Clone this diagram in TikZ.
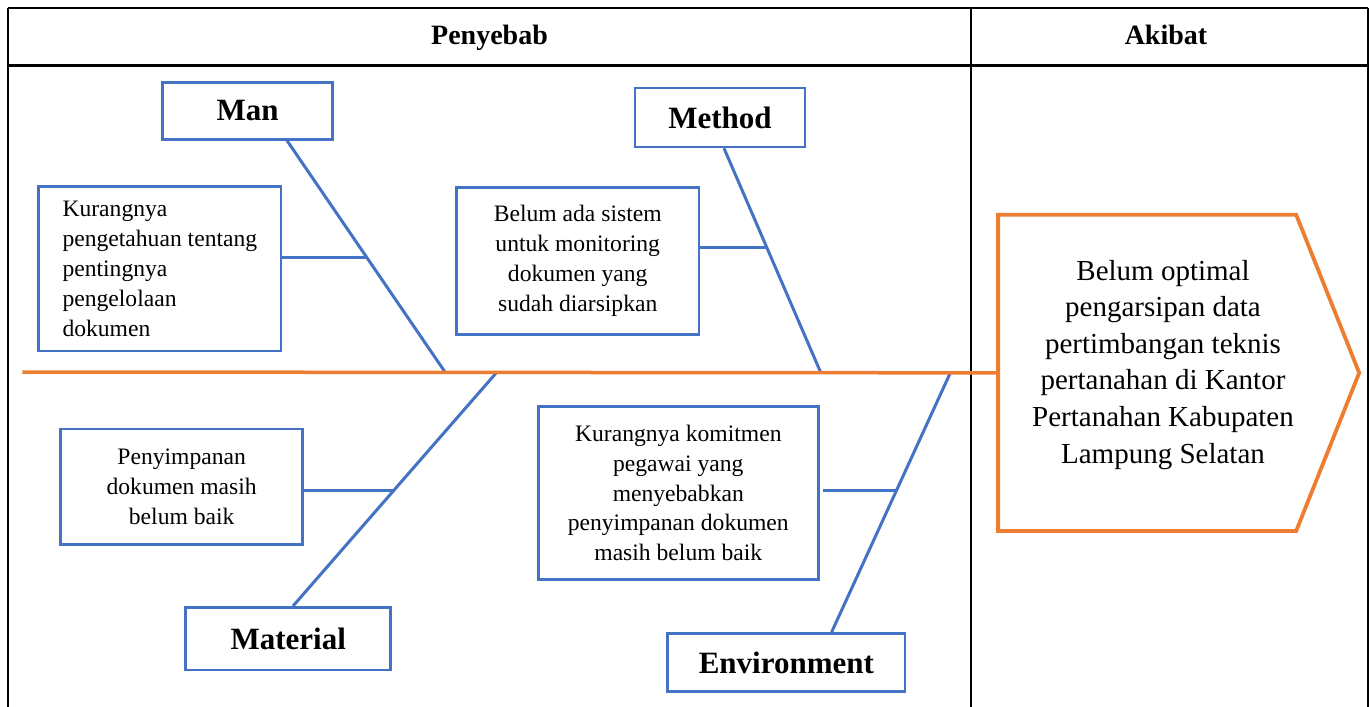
\documentclass[tikz,border=0pt]{standalone}
\usepackage{fontspec}
\setmainfont{Liberation Serif}
\definecolor{fbblue}{HTML}{4472C4}
\definecolor{fborange}{HTML}{ED7D31}
\begin{document}
\begin{tikzpicture}[x=1pt,y=-1pt,
  tableline/.style={draw=black,line width=2pt},
  headtext/.style={font=\fontsize{28}{33}\selectfont\bfseries,anchor=base,inner sep=0pt},
  catbox/.style={draw=fbblue,line width=2.5pt,inner sep=0pt,font=\fontsize{31}{36}\selectfont\bfseries},
  causebox/.style={draw=fbblue,line width=2.5pt,inner sep=0pt,align=center,font=\fontsize{23.6}{29.8}\selectfont},
  bone/.style={draw=fbblue,line width=3pt},
  spine/.style={draw=fborange,line width=3.5pt},
  effline/.style={draw=fborange,line width=3.8pt,line join=miter},
  efftext/.style={align=center,inner sep=0pt,font=\fontsize{29}{36.6}\selectfont}]
\useasboundingbox (0,0) rectangle (1369,707);
% table
\coordinate (tTL) at (8,8);
\coordinate (tTR) at (1368,8);
\coordinate (tHL) at (8,65.5);
\coordinate (tHR) at (1368,65.5);
\coordinate (tDT) at (971,8);
\coordinate (tDB) at (971,707);
\coordinate (tBL) at (8,707);
\coordinate (tBR) at (1368,707);
\draw[tableline] (tTL) -- (tTR);
\draw[tableline,line width=2.6pt] (tHL) -- (tHR);
\draw[tableline] (tTL) -- (tBL);
\draw[tableline] (tDT) -- (tDB);
\draw[tableline] (tTR) -- (tBR);
\node[headtext] (hcause) at (489.5,44.3) {Penyebab};
\node[headtext] (heffect) at (1166,44.3) {Akibat};
% category boxes
\node[catbox,minimum width=169.6pt,minimum height=57pt] (man) at (247.5,110.8) {Man};
\node[catbox,minimum width=170pt,minimum height=59pt] (method) at (720,117.5) {Method};
\node[catbox,minimum width=205pt,minimum height=62.7pt] (material) at (288.2,638.65) {Material};
\node[catbox,minimum width=237.3pt,minimum height=58.4pt] (environment) at (786.35,662.5) {Environment};
% cause boxes
\node[causebox,align=left,minimum width=242.3pt,minimum height=164.3pt] (mansub) at (159.85,268.85)
  {Kurangnya\\pengetahuan tentang\\pentingnya\\pengelolaan\\dokumen};
\node[causebox,minimum width=242.5pt,minimum height=147pt] (methodsub) at (577.75,260.8)
  {Belum ada sistem\\untuk monitoring\\dokumen yang\\sudah diarsipkan};
\node[causebox,minimum width=242pt,minimum height=115.3pt] (materialsub) at (181.7,486.65)
  {Penyimpanan\\dokumen masih\\belum baik};
\node[causebox,minimum width=280pt,minimum height=172.6pt] (envsub) at (678.3,493)
  {Kurangnya komitmen\\pegawai yang\\menyebabkan\\penyimpanan dokumen\\masih belum baik};
% effect
\node[minimum width=360.7pt,minimum height=315.7pt,inner sep=0pt] (eff) at (1178.65,372.85) {};
\node[efftext] (efftxt) at (1163,364.6)
  {Belum optimal\\pengarsipan data\\pertimbangan teknis\\pertanahan di Kantor\\Pertanahan Kabupaten\\Lampung Selatan};
\draw[effline] (eff.north west) -- ([xshift=-63pt]eff.north east) -- (eff.east)
  -- ([xshift=-63pt]eff.south east) -- (eff.south west) -- cycle;
% spine points
\coordinate (spL) at (22.3,372);
\coordinate (sMan) at (445,372);
\coordinate (sMethod) at (820.5,372);
\coordinate (sMaterial) at (497,372);
\coordinate (sEnv) at (950.7,372);
% branch points on bones
\coordinate (bMan) at (367,257);
\coordinate (bMethod) at (767,247.7);
\coordinate (bMaterial) at (393,490.7);
\coordinate (bEnv) at (897,490);
% bones
\draw[bone] ([xshift=39.5pt]man.south) -- (sMan);
\draw[bone] ([xshift=4pt]method.south) -- (sMethod);
\draw[bone] ([xshift=4.8pt]material.north) -- (sMaterial);
\draw[bone] ([xshift=45.3pt]environment.north) -- (sEnv);
\draw[bone] (mansub.east |- bMan) -- (bMan);
\draw[bone] (methodsub.east |- bMethod) -- (bMethod);
\draw[bone] (materialsub.east |- bMaterial) -- (bMaterial);
\draw[bone] ([xshift=3pt]envsub.east |- bEnv) -- (bEnv);
% spine
\draw[spine] (spL) -- (eff.west);
\end{tikzpicture}
\end{document}
